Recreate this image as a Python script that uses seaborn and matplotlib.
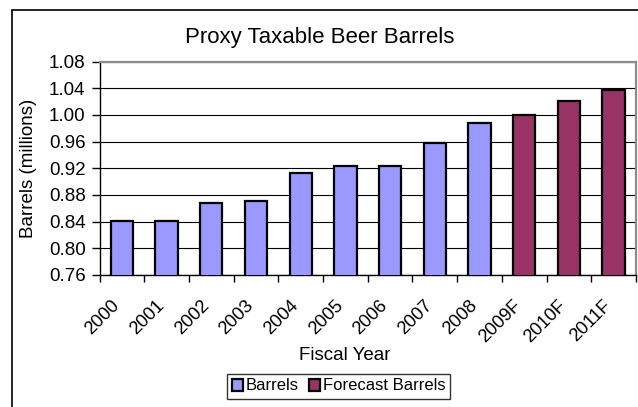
import matplotlib
matplotlib.use("Agg")
import matplotlib.pyplot as plt
import matplotlib.patches as mpatches
import matplotlib.transforms as mtransforms
import numpy as np
import pandas as pd
import seaborn as sns

# ---- data ----
years = ["2000", "2001", "2002", "2003", "2004", "2005", "2006", "2007", "2008",
         "2009F", "2010F", "2011F"]
barrels = [0.841, 0.841, 0.868, 0.871, 0.913, 0.924, 0.924, 0.958, 0.988,
           1.000, 1.021, 1.038]
series = ["Barrels"] * 9 + ["Forecast Barrels"] * 3
series_names = ["Barrels", "Forecast Barrels"]
series_colors = ["#9999FF", "#993366"]
y_ticks = [0.76, 0.80, 0.84, 0.88, 0.92, 0.96, 1.00, 1.04, 1.08]

df = pd.DataFrame({"year": years, "value": barrels, "type": series})

sns.set_theme(style="white")
plt.rcParams["font.family"] = ["Liberation Sans", "DejaVu Sans"]

W, H = 638, 407
fig = plt.figure(figsize=(W / 100, H / 100), dpi=100)
ax = fig.add_axes([99.5 / W, 1 - 275 / H, (636 - 99.5) / W, (275 - 61.5) / H])

sns.barplot(data=df, x="year", y="value", hue="type", hue_order=series_names,
            palette=series_colors, dodge=False, width=0.5, edgecolor="black",
            linewidth=1.6, saturation=1, ax=ax, legend=True, zorder=3)

handles, labels = ax.get_legend_handles_labels()
ax.get_legend().remove()

ax.set_ylim(y_ticks[0], y_ticks[-1])
ax.set_yticks(y_ticks)
ax.set_yticklabels([f"{t:.2f}" for t in y_ticks], fontsize=13.5)
ax.set_xlim(-0.5, len(years) - 0.5)
ax.set_xticks(range(len(years)))
ax.set_xticklabels(years, rotation=45, ha="right", rotation_mode="anchor", fontsize=13.2)
ax.set_xticks(np.arange(-0.5, len(years), 1.0), minor=True)
ax.tick_params(axis="x", which="major", length=0, pad=16)
ax.tick_params(axis="x", which="minor", length=5, width=1, color="black", direction="out", bottom=True)
ax.tick_params(axis="y", length=6, width=1, color="black", direction="out", left=True, pad=4, labelcolor="black")
ax.tick_params(axis="x", labelcolor="black")

shift = mtransforms.ScaledTranslation(-11 / 100, 0, fig.dpi_scale_trans)
for lab in ax.get_xticklabels():
    lab.set_transform(lab.get_transform() + shift)

ax.yaxis.grid(True, color="black", linewidth=0.8)
ax.set_axisbelow(True)

for s in ["left", "bottom"]:
    ax.spines[s].set_color("black")
    ax.spines[s].set_linewidth(1)
for s in ["top", "right"]:
    ax.spines[s].set_color("#8c8c8c")
    ax.spines[s].set_linewidth(1.6)
    ax.spines[s].set_visible(True)

ax.set_xlabel("")
ax.set_ylabel("Barrels (millions)", fontsize=13.5, color="black")
ax.yaxis.set_label_coords(-(99.5 - 37) / (636 - 99.5), 0.5)

fig.text(320 / W, 1 - 38 / H, "Proxy Taxable Beer Barrels", ha="center", va="center",
         fontsize=16, color="black")
fig.text(345 / W, 1 - 356 / H, "Fiscal Year", ha="center", va="center",
         fontsize=13.5, color="black")

leg = fig.legend(handles, labels, loc="center", bbox_to_anchor=(338.5 / W, 1 - 386 / H),
                 ncol=2, fontsize=12, frameon=True, fancybox=False, shadow=False,
                 handlelength=0.7, handleheight=0.7, handletextpad=0.15,
                 columnspacing=0.6, borderpad=0.3, borderaxespad=0)
leg.get_frame().set_edgecolor("black")
leg.get_frame().set_linewidth(1)
for t in leg.get_texts():
    t.set_color("black")

border = mpatches.Rectangle((12 / W, -0.1), 1.2, 1 - 10 / H + 0.1, transform=fig.transFigure,
                            fill=False, edgecolor="black", linewidth=1.2, clip_on=False)
fig.patches.append(border)

fig.savefig("out.png", dpi=100, facecolor="white")
